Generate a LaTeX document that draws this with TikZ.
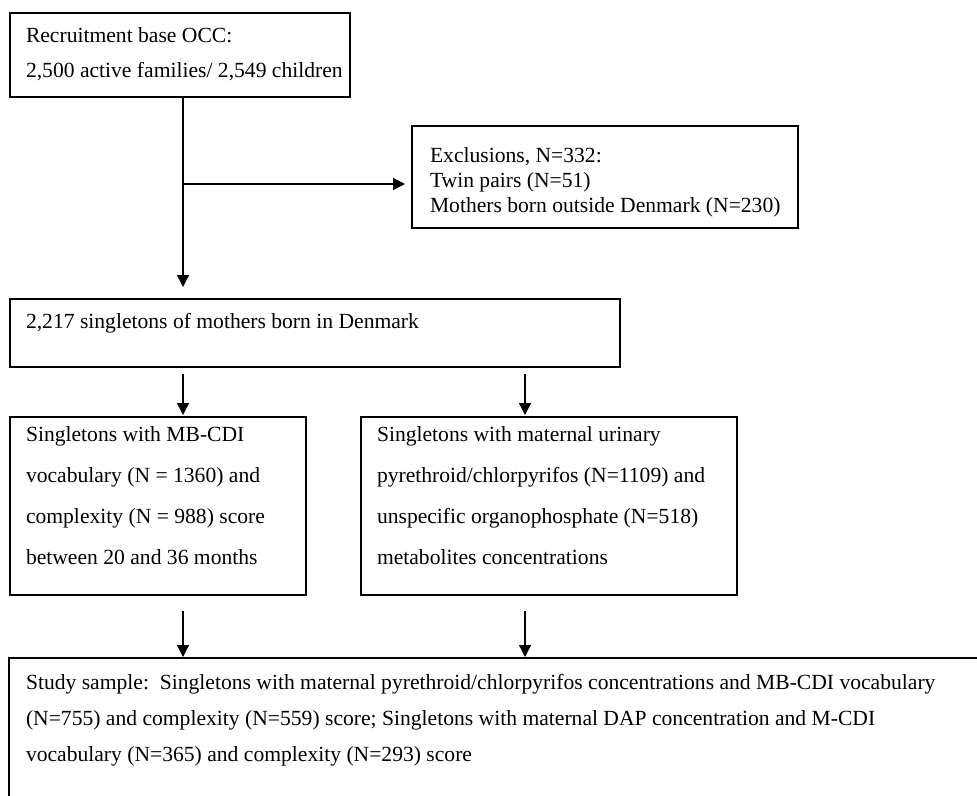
\documentclass[tikz,border=0pt]{standalone}
\usepackage{fontspec}
\setmainfont{Liberation Serif}
\usetikzlibrary{arrows.meta}
\begin{document}
\begin{tikzpicture}[x=1pt,y=-1pt,
  box/.style={draw, line width=1.4pt, anchor=north west, inner sep=0pt, outer sep=0pt},
  txt/.style={anchor=base west, inner sep=0pt, outer sep=0pt, font=\fontsize{21.6}{26}\selectfont},
  arr/.style={line width=1.3pt, -{Triangle[width=12pt,length=12pt]}}]
\useasboundingbox (0,0) rectangle (977,795);
\clip (0,0) rectangle (977,795);
% boxes
\node[box, minimum width=340pt, minimum height=84pt]  (b1) at (10,13) {};
\node[box, minimum width=386pt, minimum height=102pt] (ex) at (412,126) {};
\node[box, minimum width=610pt, minimum height=68pt]  (b2) at (10,299) {};
\node[box, minimum width=296pt, minimum height=178pt] (b3) at (10,417) {};
\node[box, minimum width=376pt, minimum height=178pt] (b4) at (361,417) {};
\node[box, minimum width=1000pt, minimum height=200pt] (b5) at (9,658) {};
% texts
\node[txt] (t1a) at (26,42) {Recruitment base OCC:};
\node[txt] (t1b) at (26,77) {2,500 active families/ 2,549 children};
\node[txt] (tea) at (430,162) {Exclusions, N=332:};
\node[txt] (teb) at (430,187) {Twin pairs (N=51)};
\node[txt] (tec) at (430,212) {Mothers born outside Denmark (N=230)};
\node[txt] (t2a) at (26,328) {2,217 singletons of mothers born in Denmark};
\node[txt] (t3a) at (26,441) {Singletons with MB-CDI};
\node[txt] (t3b) at (26,482) {vocabulary (N = 1360) and};
\node[txt] (t3c) at (26,523) {complexity (N = 988) score};
\node[txt] (t3d) at (26,564) {between 20 and 36 months};
\node[txt] (t4a) at (377,441) {Singletons with maternal urinary};
\node[txt] (t4b) at (377,482) {pyrethroid/chlorpyrifos (N=1109) and};
\node[txt] (t4c) at (377,523) {unspecific organophosphate (N=518)};
\node[txt] (t4d) at (377,564) {metabolites concentrations};
\node[txt] (t5a) at (26,689) {Study sample:\ \ Singletons with maternal pyrethroid/chlorpyrifos concentrations and MB-CDI vocabulary};
\node[txt] (t5b) at (26,725) {(N=755) and complexity (N=559) score; Singletons with maternal DAP concentration and M-CDI};
\node[txt] (t5c) at (26,761) {vocabulary (N=365) and complexity (N=293) score};
% connector columns
\coordinate (cl) at (183,0);
\coordinate (cr) at (525,0);
\coordinate (cb) at (0,184);
% connectors
\draw[arr, shorten >=12pt] (b1.south -| cl) -- (b2.north -| cl);
\draw[arr, shorten >=7pt] (cl |- cb) -- (ex.west |- cb);
\draw[arr, shorten <=7pt, shorten >=2pt] (b2.south -| cl) -- (b3.north -| cl);
\draw[arr, shorten <=7pt, shorten >=2pt] (b2.south -| cr) -- (b4.north -| cr);
\draw[arr, shorten <=16pt, shorten >=1pt] (b3.south -| cl) -- (b5.north -| cl);
\draw[arr, shorten <=16pt, shorten >=1pt] (b4.south -| cr) -- (b5.north -| cr);
\end{tikzpicture}
\end{document}
